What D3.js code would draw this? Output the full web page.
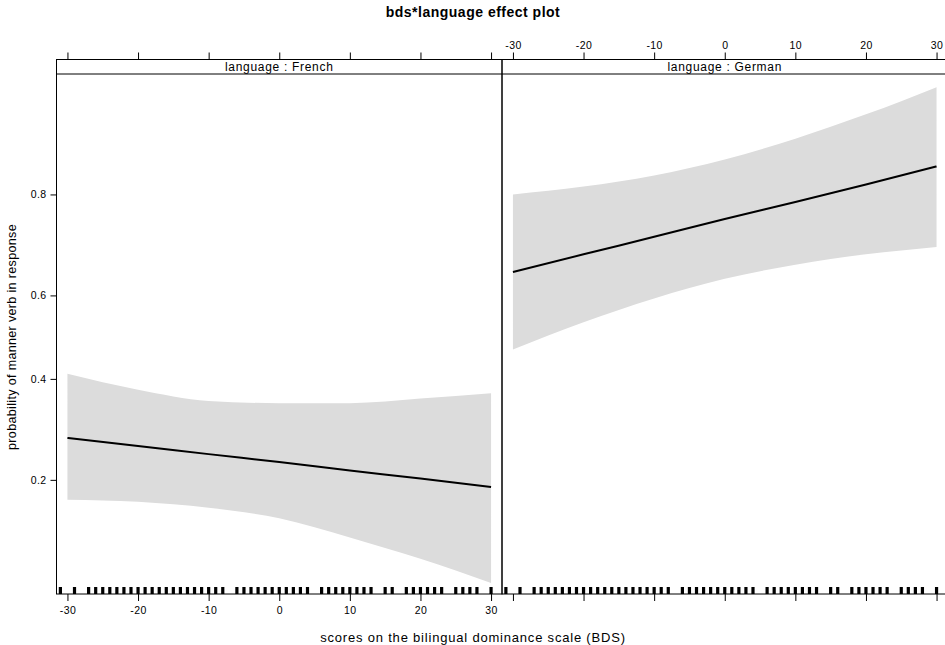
<!DOCTYPE html>
<html>
<head>
<meta charset="utf-8">
<script src="https://cdn.jsdelivr.net/npm/d3@7"></script>
<style>
  body { margin: 0; background: #fff; }
  svg { font-family: "Liberation Sans", Arial, sans-serif; }
</style>
</head>
<body>
<script>
// werte
var bds = [-30, -20, -10, 0, 10, 20, 30];
var frenchFit   = [0.273, 0.258, 0.243, 0.229, 0.215, 0.202, 0.189];
var frenchLower = [0.171, 0.168, 0.160, 0.147, 0.125, 0.104, 0.084];
var frenchUpper = [0.412, 0.375, 0.350, 0.345, 0.345, 0.355, 0.367];
var germanFit   = [0.653, 0.691, 0.726, 0.759, 0.788, 0.815, 0.840];
var germanLower = [0.470, 0.536, 0.593, 0.638, 0.669, 0.691, 0.706];
var germanUpper = [0.800, 0.812, 0.828, 0.849, 0.873, 0.897, 0.919];

var panels = ["French", "German"];
var xTicks = [-30, -20, -10, 0, 10, 20, 30];
var yTicks = [0.2, 0.4, 0.6, 0.8];
var yLimits = [0.0762, 0.928];

// rug (bds-werte der daten)
var rugValues = [-31, -29, -27, -26, -25, -24, -23, -22, -21, -20, -19, -18, -17, -16, -15, -14, -13, -12, -11, -10, -9, -8,
  -6, -5, -4, -3, -2, -1, 0, 1, 2, 3, 4, 6, 7, 8, 9, 10, 11, 12, 13, 15, 16, 18, 19, 20, 21, 22, 23, 25, 26, 27, 28, 30];

var breite = 945, hoehe = 645;
var oben_y = 74, unten_y = 594;
var panelW = 445.5;
var left0 = 56.5;

var logit = function(p) { return Math.log(p / (1 - p)); };

var svg = d3.select("body").append("svg").attr("width", breite).attr("height", hoehe);

var y = d3.scaleLinear().domain([logit(yLimits[0]), logit(yLimits[1])]).range([unten_y, oben_y]);

var daten = {
  French: bds.map(function(b, i) { return {x: b, fit: frenchFit[i], lo: frenchLower[i], hi: frenchUpper[i]}; }),
  German: bds.map(function(b, i) { return {x: b, fit: germanFit[i], lo: germanLower[i], hi: germanUpper[i]}; })
};

// titel
svg.append("text").attr("x", 473).attr("y", 17).attr("text-anchor", "middle")
  .attr("font-size", 14).attr("letter-spacing", 0.5).attr("font-weight", "bold").text("bds*language effect plot");

panels.forEach(function(lang, k) {
  var x0 = left0 + k * panelW;
  var x = d3.scaleLinear().domain([-31.55, 31.55]).range([x0, x0 + panelW]);
  var g = svg.append("g");

  var clip = "clip" + k;
  svg.append("clipPath").attr("id", clip).append("rect")
    .attr("x", x0).attr("y", oben_y).attr("width", panelW).attr("height", unten_y - oben_y);

  var band = d3.area().x(function(d) { return x(d.x); })
    .y0(function(d) { return y(logit(d.lo)); })
    .y1(function(d) { return y(logit(d.hi)); })
    .curve(d3.curveMonotoneX);
  g.append("path").datum(daten[lang]).attr("d", band).attr("fill", "#dcdcdc")
    .attr("clip-path", "url(#" + clip + ")");

  var linie = d3.line().x(function(d) { return x(d.x); })
    .y(function(d) { return y(logit(d.fit)); })
    .curve(d3.curveMonotoneX);
  g.append("path").datum(daten[lang]).attr("d", linie).attr("fill", "none")
    .attr("stroke", "#000").attr("stroke-width", 2);

  // rug
  g.selectAll("line.rug").data(rugValues).enter().append("line").attr("class", "rug")
    .attr("x1", function(d) { return x(d); }).attr("x2", function(d) { return x(d); })
    .attr("y1", unten_y - 7).attr("y2", unten_y)
    .attr("stroke", "#000").attr("stroke-width", 3.2);

  // rahmen und strip
  g.append("rect").attr("x", x0).attr("y", 59.5).attr("width", panelW).attr("height", unten_y - 59.5)
    .attr("fill", "none").attr("stroke", "#000").attr("stroke-width", 1);
  g.append("line").attr("x1", x0).attr("x2", x0 + panelW).attr("y1", oben_y).attr("y2", oben_y)
    .attr("stroke", "#000");
  g.append("text").attr("x", x0 + panelW / 2).attr("y", 71).attr("text-anchor", "middle")
    .attr("font-size", 12).attr("letter-spacing", 0.7).text("language : " + lang);

  // achsen unten und oben
  var unten = d3.axisBottom(x).tickValues(xTicks).tickSize(7).tickPadding(6)
    .tickFormat(k === 0 ? d3.format("d") : function() { return ""; });
  var ax = svg.append("g").attr("transform", "translate(0," + unten_y + ")").call(unten);
  var oben = d3.axisTop(x).tickValues(xTicks).tickSize(7).tickPadding(4)
    .tickFormat(k === 1 ? d3.format("d") : function() { return ""; });
  var ax2 = svg.append("g").attr("transform", "translate(0,59.5)").call(oben);
  [ax, ax2].forEach(function(a) {
    a.select(".domain").remove();
    a.selectAll("text").attr("font-size", 10.5).attr("letter-spacing", 0.4).attr("fill", "#000")
      .attr("font-family", "Liberation Sans, Arial, sans-serif")
      .text(function() { return d3.select(this).text().replace("\u2212", "-"); });
  });
});

// y achse
var yAx = svg.append("g").attr("transform", "translate(" + left0 + ",0)")
  .call(d3.axisLeft(y).tickValues(yTicks.map(logit)).tickSize(6).tickPadding(4)
    .tickFormat(function(d, i) { return String(yTicks[i]); }));
yAx.select(".domain").remove();
yAx.selectAll("text").attr("font-size", 10.5).attr("letter-spacing", 0.4).attr("fill", "#000")
  .attr("font-family", "Liberation Sans, Arial, sans-serif");

svg.append("text").attr("x", 473).attr("y", 642).attr("text-anchor", "middle")
  .attr("font-size", 13).attr("letter-spacing", 0.8).text("scores on the bilingual dominance scale (BDS)");
svg.append("text").attr("transform", "translate(16,337) rotate(-90)").attr("text-anchor", "middle")
  .attr("font-size", 12.5).attr("letter-spacing", 0.35).text("probability of manner verb in response");
</script>
</body>
</html>
